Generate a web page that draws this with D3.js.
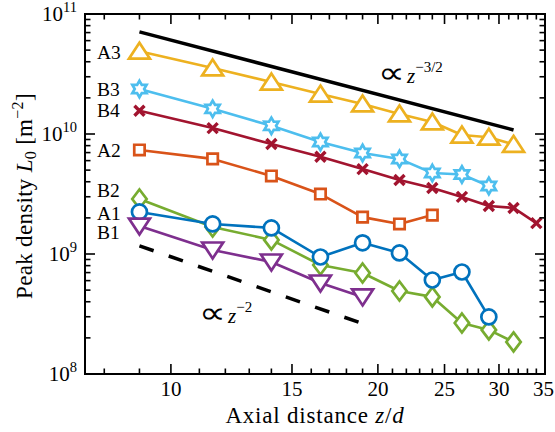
<!DOCTYPE html>
<html><head><meta charset="utf-8">
<script src="https://cdn.jsdelivr.net/npm/d3@7"></script>
<style>
body{margin:0;background:#fff;}
svg text{font-family:"Liberation Serif","Times New Roman",serif;fill:#000;}
</style></head>
<body><svg id="c" width="555" height="432"></svg>
<script>
// ---- data ----
const zValues = [9, 11.5, 14, 16.5, 19, 21.5, 24, 26.5, 29, 31.5, 34];
const seriesNames = ["A3", "B3", "B4", "A2", "B2", "A1", "B1"];
const A3 = [4.9e10, 3.55e10, 2.71e10, 2.15e10, 1.78e10, 1.47e10, 1.26e10, 9.8e9, 9.4e9, 8.2e9];
const B3 = [2.37e10, 1.62e10, 1.17e10, 8.58e9, 6.95e9, 6.2e9, 4.73e9, 4.6e9, 3.69e9];
const B4 = [1.56e10, 1.12e10, 8.25e9, 6.46e9, 5.1e9, 4.14e9, 3.55e9, 2.99e9, 2.51e9, 2.42e9, 1.81e9];
const A2 = [7.36e9, 6.2e9, 4.47e9, 3.16e9, 2.03e9, 1.78e9, 2.11e9];
const B2 = [2.87e9, 1.68e9, 1.31e9, 8.1e8, 6.95e8, 4.92e8, 4.39e8, 2.66e8, 2.33e8, 1.85e8];
const A1 = [2.24e9, 1.78e9, 1.65e9, 9.44e8, 1.24e9, 1.02e9, 6.07e8, 7.08e8, 2.99e8];
const B1 = [1.71e9, 1.08e9, 8.58e8, 5.73e8, 4.39e8];
const labelValues = [4.75e10, 2.37e10, 1.56e10, 7.36e9, 3.41e9, 2.2e9, 1.52e9];
const refSolidZ = [9, 31.5];
const refSolidL = [7.1e10, 1.08e10];
const refDashZ = [9, 19];
const refDashL = [1.17e9, 2.63e8];
const xTickLabels = [10, 15, 20, 25, 30, 35];
const yTickExps = [8, 9, 10, 11];

// ---- styles ----
const colors = {A3:"#EDB120", B3:"#4DBEEE", B4:"#A2142F", A2:"#D95319", B2:"#77AC30", A1:"#0072BD", B1:"#7E2F8E"};
const markers = {A3:"tri", B3:"hex", B4:"x", A2:"sq", B2:"dia", A1:"circ", B1:"tridown"};
const dataMap = {A3, B3, B4, A2, B2, A1, B1};

const svg = d3.select("#c");
const L = 85, R = 545, T = 14, B = 374;
const x = d3.scaleLog().domain([7.5, 35]).range([L, R]);
const y = d3.scaleLog().domain([1e8, 1e11]).range([B, T]);

function markerPath(type){
  switch(type){
    case "tri": return "M0,-8.5L10.5,7.5L-10.5,7.5Z";
    case "tridown": return "M0,8.5L10.5,-7.5L-10.5,-7.5Z";
    case "sq": return "M-5.2,-5.2H5.2V5.2H-5.2Z";
    case "dia": return "M0,-9.5L7.2,0L0,9.5L-7.2,0Z";
    case "x": return "M-5,-5L5,5M-5,5L5,-5";
    case "hex": {
      const Ro = 8.2, Ri = 4.7; let p = "";
      for (let i = 0; i < 12; i++){
        const r = i % 2 === 0 ? Ro : Ri;
        const a = -Math.PI/2 + i*Math.PI/6;
        p += (i ? "L" : "M") + (r*Math.cos(a)).toFixed(2) + "," + (r*Math.sin(a)).toFixed(2);
      }
      return p + "Z";
    }
  }
}

// reference lines
svg.append("line").attr("x1", x(refSolidZ[0])).attr("y1", y(refSolidL[0]))
  .attr("x2", x(refSolidZ[1])).attr("y2", y(refSolidL[1]))
  .attr("stroke", "#000").attr("stroke-width", 3.5);
svg.append("line").attr("x1", x(refDashZ[0])).attr("y1", y(refDashL[0]))
  .attr("x2", x(refDashZ[1])).attr("y2", y(refDashL[1]))
  .attr("stroke", "#000").attr("stroke-width", 3.5).attr("stroke-dasharray", "15,16");

// series
const line = d3.line().x(d => x(d[0])).y(d => y(d[1]));
seriesNames.forEach(name => {
  const pts = dataMap[name].map((v, i) => [zValues[i], v]);
  const col = colors[name];
  svg.append("path").attr("d", line(pts)).attr("fill", "none")
    .attr("stroke", col).attr("stroke-width", 2.6).attr("stroke-linejoin", "round");
  const g = svg.append("g");
  pts.forEach(p => {
    const t = markers[name];
    if (t === "circ") {
      g.append("circle").attr("cx", x(p[0])).attr("cy", y(p[1])).attr("r", 7.5)
        .attr("fill", "#fff").attr("stroke", col).attr("stroke-width", 2.7);
    } else {
      g.append("path").attr("d", markerPath(t))
        .attr("transform", `translate(${x(p[0])},${y(p[1])})`)
        .attr("fill", t === "x" ? "none" : "#fff").attr("stroke", col)
        .attr("stroke-width", t === "x" ? 3.4 : 2.7).attr("stroke-linejoin", "miter");
    }
  });
});

// series labels
seriesNames.forEach((name, i) => {
  svg.append("text").attr("x", 97).attr("y", y(labelValues[i])).attr("dy", "0.34em")
    .attr("font-size", 19.5).text(name);
});

// frame
svg.append("rect").attr("x", L).attr("y", T).attr("width", R - L).attr("height", B - T)
  .attr("fill", "none").attr("stroke", "#000").attr("stroke-width", 2);

// x ticks
const xMinor = d3.range(8, 36).filter(v => v >= 7.5 && v <= 35);
xMinor.forEach(v => {
  const major = xTickLabels.includes(v);
  const len = major ? 10 : 5.5;
  const px = x(v);
  svg.append("line").attr("x1", px).attr("x2", px).attr("y1", B).attr("y2", B - len).attr("stroke", "#000").attr("stroke-width", 1.6);
  svg.append("line").attr("x1", px).attr("x2", px).attr("y1", T).attr("y2", T + len).attr("stroke", "#000").attr("stroke-width", 1.6);
});
xTickLabels.forEach(v => {
  svg.append("text").attr("x", x(v) - (v === 35 ? 1.5 : 0)).attr("y", 396).attr("text-anchor", "middle")
    .attr("font-size", 21).text(v);
});

// y ticks
for (let e = 8; e < 11; e++) {
  for (let m = 1; m <= 9; m++) {
    const v = m * Math.pow(10, e);
    const len = m === 1 ? 10 : 5.5;
    const py = y(v);
    svg.append("line").attr("x1", L).attr("x2", L + len).attr("y1", py).attr("y2", py).attr("stroke", "#000").attr("stroke-width", 1.6);
    svg.append("line").attr("x1", R).attr("x2", R - len).attr("y1", py).attr("y2", py).attr("stroke", "#000").attr("stroke-width", 1.6);
  }
}
yTickExps.forEach(e => {
  const t = svg.append("text").attr("x", 77).attr("y", y(Math.pow(10, e)) + 7).attr("text-anchor", "end").attr("font-size", 21);
  t.append("tspan").text("10");
  t.append("tspan").attr("font-size", 14.5).attr("dy", -9).text(e);
});

// axis labels
const xl = svg.append("text").attr("x", (L + R) / 2).attr("y", 423).attr("text-anchor", "middle")
  .attr("font-size", 23).attr("letter-spacing", 0.8);
xl.append("tspan").text("Axial distance ");
xl.append("tspan").attr("font-style", "italic").text("z");
xl.append("tspan").text("/");
xl.append("tspan").attr("font-style", "italic").text("d");

const yl = svg.append("text").attr("transform", `translate(32,${(T + B) / 2 + 2}) rotate(-90)`).attr("text-anchor", "middle")
  .attr("font-size", 23).attr("letter-spacing", 0.3);
yl.append("tspan").text("Peak density ");
yl.append("tspan").attr("font-style", "italic").text("L");
yl.append("tspan").attr("font-size", 16).attr("dy", 4).text("0");
yl.append("tspan").attr("dy", -4).text(" [m");
yl.append("tspan").attr("font-size", 16).attr("dy", -9).text("\u22122");
yl.append("tspan").attr("dy", 9).text("]");

// annotations
function annot(px, py, expText) {
  svg.append("text").attr("transform", `translate(${px - 1},${py}) scale(1.25,1)`)
    .attr("font-size", 30).text("\u221D");
  const t = svg.append("text").attr("x", px + 28).attr("y", py).attr("font-size", 21);
  t.append("tspan").attr("font-style", "italic").text("z");
  t.append("tspan").attr("font-size", 15).attr("dy", -11).text(expText);
}
annot(379, 83, "\u22123/2");
annot(200, 323, "\u22122");
</script></body></html>
